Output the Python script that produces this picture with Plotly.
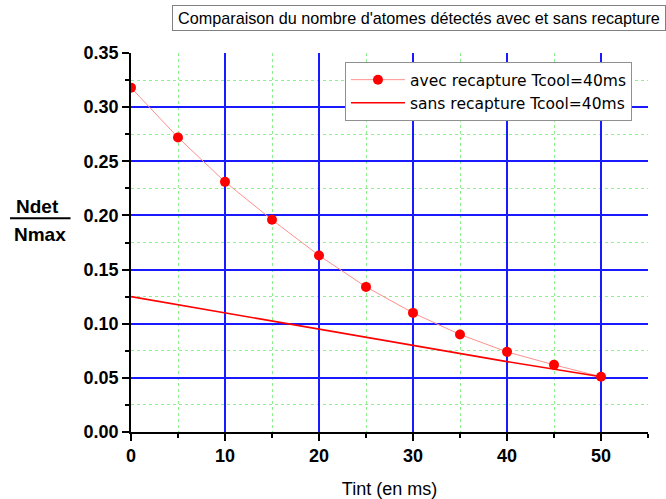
import plotly.graph_objects as go

# Data
tint_avec = [0, 5, 10, 15, 20, 25, 30, 35, 40, 45, 50]
ndet_avec = [0.318, 0.272, 0.231, 0.196, 0.163, 0.134, 0.110, 0.090, 0.074, 0.062, 0.051]
tint_sans = [0, 10, 20, 30, 40, 50]
ndet_sans = [0.125, 0.110, 0.0945, 0.0795, 0.065, 0.051]

name_avec = "avec recapture Tcool=40ms"
name_sans = "sans recapture Tcool=40ms"
title_text = "Comparaison du nombre d'atomes détectés avec et sans recapture"
x_title = "Tint (en ms)"

FONT = "Liberation Sans, Arial, sans-serif"
LEGEND_FONT = "DejaVu Sans, Liberation Sans, sans-serif"

fig = go.Figure()
fig.add_trace(go.Scatter(
    x=tint_avec, y=ndet_avec, name=name_avec, mode="lines+markers",
    line=dict(color="#ff9090", width=1),
    marker=dict(color="#ff0000", size=10, line=dict(width=0)),
))
fig.add_trace(go.Scatter(
    x=tint_sans, y=ndet_sans, name=name_sans, mode="lines",
    line=dict(color="#ff0000", width=1.6),
))

axis_common = dict(
    showline=True, linecolor="black", linewidth=1.5,
    ticks="outside", ticklen=7, tickwidth=1.5, tickcolor="black",
    showgrid=True, gridcolor="#1a1aff", gridwidth=1.5,
    zeroline=False, automargin=False,
    tickfont=dict(family=FONT, size=18, color="black", weight="bold"),
)

fig.update_xaxes(
    range=[0, 55], dtick=10, tick0=0,
    minor=dict(dtick=5, ticks="outside", ticklen=4, tickcolor="black",
               showgrid=True, gridcolor="#8ef08e", griddash="dot", gridwidth=1),
    title=dict(text=x_title, font=dict(family=FONT, size=18, color="black"), standoff=22),
    **axis_common,
)
fig.update_yaxes(
    range=[0, 0.35], dtick=0.05, tick0=0, tickformat=".2f",
    minor=dict(dtick=0.025, ticks="outside", ticklen=4, tickcolor="black",
               showgrid=True, gridcolor="#8ef08e", griddash="dot", gridwidth=1),
    **axis_common,
)

fig.add_annotation(
    text=title_text, xref="paper", yref="paper", x=0.557, y=1.092,
    xanchor="center", yanchor="middle", showarrow=False,
    font=dict(family=FONT, size=16.2, color="black"),
    bordercolor="#808080", borderwidth=1, borderpad=2, bgcolor="white",
    width=488, height=20,
)
fig.add_annotation(
    text="<b>Ndet</b>", xref="paper", yref="paper", x=-0.181, y=0.594,
    xanchor="center", yanchor="middle", showarrow=False,
    font=dict(family=FONT, size=19, color="black"),
)
fig.add_annotation(
    text="<b>Nmax</b>", xref="paper", yref="paper", x=-0.176, y=0.522,
    xanchor="center", yanchor="middle", showarrow=False,
    font=dict(family=FONT, size=19, color="black"),
)
fig.add_shape(type="line", xref="paper", yref="paper",
              x0=-0.234, x1=-0.117, y0=0.564, y1=0.564,
              line=dict(color="black", width=2))

fig.update_layout(
    width=666, height=499,
    margin=dict(l=131, r=18, t=53, b=67, autoexpand=False),
    paper_bgcolor="white", plot_bgcolor="white",
    showlegend=True,
    legend=dict(
        x=0.969, y=0.976, xanchor="right", yanchor="top",
        bgcolor="white", bordercolor="#909090", borderwidth=1,
        font=dict(family=LEGEND_FONT, size=15.5, color="black"),
        tracegroupgap=0, itemwidth=54,
    ),
)

fig.write_html("out.html", config={"displayModeBar": False},
               post_script="document.body.style.margin='0';document.body.style.padding='0';")
